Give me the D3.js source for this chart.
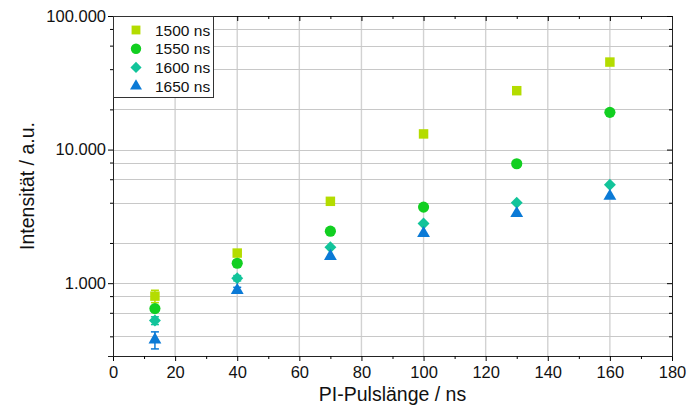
<!DOCTYPE html>
<html>
<head>
<meta charset="utf-8">
<script src="https://cdn.jsdelivr.net/npm/d3@7"></script>
<style>
  body { margin: 0; background: #fff; }
  svg { font-family: "Liberation Sans", Arial, sans-serif; }
</style>
</head>
<body>
<div id="chart"></div>
<script>
const pulseLengths = [13.5, 40, 70, 100, 130, 160]
const seriesNames = ["1500 ns", "1550 ns", "1600 ns", "1650 ns"]
const val1500 = [800, 1680, 4100, 13100, 27600, 45200]
const val1550 = [645, 1410, 2450, 3710, 7830, 19000]
const val1600 = [525, 1090, 1860, 2800, 4000, 5450]
const val1650 = [377, 886, 1590, 2360, 3330, 4490]
const err1500 = [85, 70, 0, 0, 0, 0]
const err1550 = [30, 40, 0, 0, 0, 0]
const err1600 = [35, 50, 0, 0, 0, 0]
const err1650 = [55, 45, 0, 0, 0, 0]
const xTicks = [0, 20, 40, 60, 80, 100, 120, 140, 160, 180]
const yMajor = [1000, 10000, 100000]
const yMinor = [400, 600, 800, 2000, 4000, 6000, 8000, 20000, 40000, 60000, 80000]

const width = 689
const height = 412
const plotLeft = 113, plotRight = 672, plotTop = 16, plotBottom = 356

const de = d3.formatLocale({decimal: ",", thousands: ".", grouping: [3], currency: ["", " €"]})
const fmt = de.format(",d")

const x = d3.scaleLinear().domain([0, 180]).range([plotLeft, plotRight])
const y = d3.scaleLog().domain([285, 100000]).range([plotBottom, plotTop])

const svg = d3.select("#chart").append("svg")
    .attr("width", width)
    .attr("height", height)

// gridlines
const grid = svg.append("g").attr("stroke", "#d2d2d2").attr("stroke-width", 1)
grid.selectAll(".gx").data(xTicks.slice(1, -1)).enter().append("line")
    .attr("x1", d => x(d)).attr("x2", d => x(d))
    .attr("y1", plotTop).attr("y2", plotBottom)
    .attr("stroke-width", 1.4)
grid.selectAll(".gy").data(yMajor.concat(yMinor)).enter().append("line")
    .attr("x1", plotLeft).attr("x2", plotRight)
    .attr("y1", d => Math.round(y(d)) + 0.5).attr("y2", d => Math.round(y(d)) + 0.5)
    .attr("stroke", "#c8c8c8")

// axes
const xMinor = d3.range(10, 180, 20)
svg.append("g")
    .attr("transform", `translate(0, ${plotBottom})`)
    .call(d3.axisBottom(x).tickValues(xTicks).tickSize(5).tickPadding(5).tickFormat(d3.format("d")))
    .call(g => g.selectAll("text").attr("font-size", "16.5px").attr("fill", "#111").attr("font-family", "Liberation Sans, Arial"))
svg.append("g")
    .attr("transform", `translate(0, ${plotBottom})`)
    .call(d3.axisBottom(x).tickValues(xMinor).tickSize(3).tickFormat(""))
    .call(g => g.select(".domain").remove())

svg.append("g")
    .attr("transform", `translate(${plotLeft}, 0)`)
    .call(d3.axisLeft(y).tickValues(yMajor).tickSize(5).tickPadding(2).tickFormat(fmt))
    .call(g => g.selectAll("text").attr("font-size", "16.5px").attr("fill", "#111").attr("font-family", "Liberation Sans, Arial"))
svg.append("g")
    .attr("transform", `translate(${plotLeft}, 0)`)
    .call(d3.axisLeft(y).tickValues(yMinor).tickSize(3).tickFormat(""))
    .call(g => g.select(".domain").remove())

// mirrored axes, ticks inward
svg.append("g")
    .attr("transform", `translate(0, ${plotTop})`)
    .call(d3.axisBottom(x).tickValues(xTicks).tickSize(5).tickFormat(""))
svg.append("g")
    .attr("transform", `translate(0, ${plotTop})`)
    .call(d3.axisBottom(x).tickValues(xMinor).tickSize(3).tickFormat(""))
    .call(g => g.select(".domain").remove())
svg.append("g")
    .attr("transform", `translate(${plotRight}, 0)`)
    .call(d3.axisLeft(y).tickValues(yMajor).tickSize(5).tickFormat(""))
svg.append("g")
    .attr("transform", `translate(${plotRight}, 0)`)
    .call(d3.axisLeft(y).tickValues(yMinor).tickSize(3).tickFormat(""))
    .call(g => g.select(".domain").remove())

svg.selectAll(".domain").attr("stroke", "#222")

// axis titles
svg.append("text")
    .attr("x", (plotLeft + plotRight) / 2)
    .attr("y", 401)
    .attr("text-anchor", "middle")
    .attr("font-size", "19.5px")
    .attr("fill", "#111")
    .text("PI-Pulslänge / ns")

svg.append("text")
    .attr("transform", "rotate(-90)")
    .attr("x", -(plotTop + plotBottom) / 2)
    .attr("y", 34)
    .attr("text-anchor", "middle")
    .attr("font-size", "19.5px")
    .attr("fill", "#111")
    .text("Intensität / a.u.")

// legend
const legendBox = svg.append("g")
legendBox.append("rect")
    .attr("x", plotLeft + 0.5).attr("y", plotTop + 0.5)
    .attr("width", 100).attr("height", 81)
    .attr("fill", "#fff").attr("stroke", "#333").attr("stroke-width", 1)

const colors = ["#b4dc00", "#12cf21", "#12c49a", "#0b7ad6"]
// diamond = square turned by 45 degrees
const symbols = [d3.symbolSquare, d3.symbolCircle, d3.symbolSquare, d3.symbolTriangle]
const rotations = [0, 0, 45, 0]
const sizes = [78, 85, 62, 62]
const allValues = [val1500, val1550, val1600, val1650]
const allErrors = [err1500, err1550, err1600, err1650]

const legendRows = legendBox.selectAll(".lineLegend")
    .data(seriesNames)
    .enter().append("g")
    .attr("class", "lineLegend")
    .attr("transform", (d, i) => `translate(${plotLeft + 23}, ${plotTop + 14 + i * 18.7})`)

legendRows.append("path")
    .attr("d", (d, i) => d3.symbol().type(symbols[i]).size(sizes[i])())
    .attr("transform", (d, i) => `rotate(${rotations[i]})`)
    .attr("fill", (d, i) => colors[i])

legendRows.append("text")
    .attr("x", 19)
    .attr("y", 5.5)
    .attr("font-size", "15.5px")
    .attr("fill", "#111")
    .text(d => d)

// points with error bars
allValues.forEach((vals, s) => {
    const pts = pulseLengths.map((p, i) => ({x: p, v: vals[i], e: allErrors[s][i]}))
    const g = svg.append("g")
    const bars = g.selectAll(".err").data(pts.filter(d => d.e > 0)).enter().append("g")
    bars.append("line")
        .attr("x1", d => x(d.x)).attr("x2", d => x(d.x))
        .attr("y1", d => y(d.v - d.e)).attr("y2", d => y(d.v + d.e))
        .attr("stroke", colors[s]).attr("stroke-width", 1.5)
    bars.append("line")
        .attr("x1", d => x(d.x) - 4).attr("x2", d => x(d.x) + 4)
        .attr("y1", d => y(d.v - d.e)).attr("y2", d => y(d.v - d.e))
        .attr("stroke", colors[s]).attr("stroke-width", 1.5)
    bars.append("line")
        .attr("x1", d => x(d.x) - 4).attr("x2", d => x(d.x) + 4)
        .attr("y1", d => y(d.v + d.e)).attr("y2", d => y(d.v + d.e))
        .attr("stroke", colors[s]).attr("stroke-width", 1.5)
    g.selectAll(".pt").data(pts).enter().append("path")
        .attr("transform", d => `translate(${x(d.x)}, ${y(d.v)}) rotate(${rotations[s]})`)
        .attr("d", d3.symbol().type(symbols[s]).size(sizes[s] * 1.15)())
        .attr("fill", colors[s])
})
</script>
</body>
</html>
